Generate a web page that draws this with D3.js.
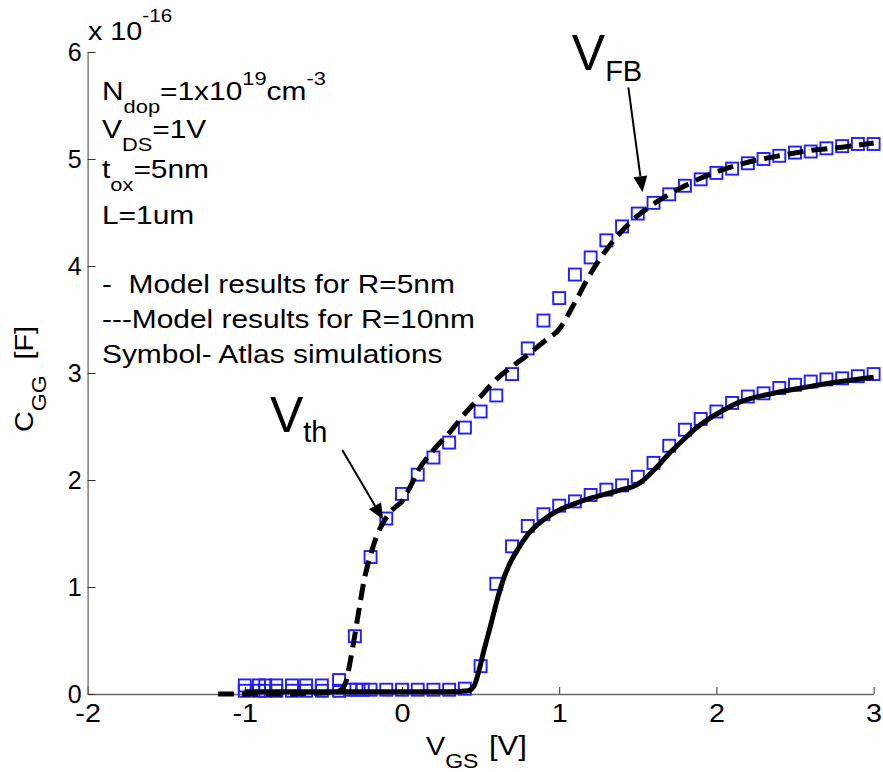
<!DOCTYPE html>
<html><head><meta charset="utf-8">
<script src="https://cdn.jsdelivr.net/npm/d3@7"></script>
<style>
html,body{margin:0;padding:0;background:#fff;}
svg text{font-family:"Liberation Sans", Arial, Helvetica, sans-serif; fill:#000; white-space:pre;}
</style></head><body>
<svg id="chart" width="883" height="772"></svg>
<script>
// Gate capacitance C_GG versus V_GS; capacitance values are in units of 1e-16 F.
const xTicks = [-2, -1, 0, 1, 2, 3];
const yTicks = [0, 1, 2, 3, 4, 5, 6];

// Model results, R = 10 nm (dashed line)
const modelR10V = [-1.17, -0.8, -0.5, -0.4, -0.36, -0.33, -0.3, -0.27, -0.24, -0.2, -0.16, -0.12, -0.08, -0.04, 0.0, 0.05, 0.1, 0.2, 0.3, 0.4, 0.5, 0.6, 0.7, 0.8, 0.9, 1.0, 1.1, 1.2, 1.3, 1.4, 1.5, 1.6, 1.7, 1.8, 1.9, 2.0, 2.2, 2.4, 2.6, 2.8, 3.0];
const modelR10C = [0.0, 0.0, 0.01, 0.03, 0.1, 0.3, 0.55, 0.82, 1.07, 1.3, 1.48, 1.6, 1.69, 1.75, 1.8, 1.93, 2.08, 2.28, 2.44, 2.62, 2.78, 2.94, 3.06, 3.17, 3.29, 3.41, 3.66, 3.93, 4.15, 4.33, 4.47, 4.58, 4.67, 4.75, 4.82, 4.88, 4.97, 5.03, 5.08, 5.11, 5.15];

// Model results, R = 5 nm (solid line)
const modelR5V = [-1.0, 0.3, 0.42, 0.46, 0.49, 0.52, 0.56, 0.6, 0.64, 0.68, 0.74, 0.8, 0.86, 0.92, 1.0, 1.1, 1.2, 1.3, 1.4, 1.47, 1.52, 1.56, 1.6, 1.64, 1.7, 1.75, 1.8, 1.85, 1.94, 2.04, 2.15, 2.36, 2.58, 2.79, 3.0];
const modelR5C = [0.02, 0.02, 0.03, 0.08, 0.22, 0.4, 0.62, 0.85, 1.05, 1.2, 1.36, 1.49, 1.58, 1.65, 1.72, 1.78, 1.83, 1.87, 1.91, 1.94, 1.98, 2.03, 2.09, 2.15, 2.25, 2.32, 2.39, 2.46, 2.56, 2.65, 2.73, 2.81, 2.87, 2.92, 2.96];

// Atlas simulations, R = 10 nm (symbols)
const atlasR10V = [-1.0, -0.91, -0.87, -0.8, -0.7, -0.61, -0.51, -0.4, -0.3, -0.2, -0.1, 0.0, 0.1, 0.2, 0.3, 0.4, 0.5, 0.6, 0.7, 0.8, 0.9, 1.0, 1.1, 1.2, 1.3, 1.4, 1.5, 1.6, 1.7, 1.8, 1.9, 2.0, 2.1, 2.2, 2.3, 2.4, 2.5, 2.6, 2.7, 2.8, 2.9, 3.0];
const atlasR10C = [0.08, 0.08, 0.08, 0.08, 0.08, 0.08, 0.08, 0.13, 0.54, 1.28, 1.64, 1.87, 2.05, 2.21, 2.35, 2.49, 2.64, 2.79, 2.99, 3.23, 3.49, 3.70, 3.92, 4.08, 4.24, 4.37, 4.49, 4.59, 4.67, 4.75, 4.81, 4.87, 4.91, 4.96, 5.00, 5.03, 5.06, 5.07, 5.10, 5.12, 5.14, 5.14];

// Atlas simulations, R = 5 nm (symbols)
const atlasR5V = [-1.0, -0.91, -0.87, -0.8, -0.7, -0.61, -0.51, -0.4, -0.33, -0.29, -0.25, -0.2, -0.1, 0.0, 0.1, 0.2, 0.3, 0.4, 0.5, 0.6, 0.7, 0.8, 0.9, 1.0, 1.1, 1.2, 1.3, 1.4, 1.5, 1.6, 1.7, 1.8, 1.9, 2.0, 2.1, 2.2, 2.3, 2.4, 2.5, 2.6, 2.7, 2.8, 2.9, 3.0];
const atlasR5C = [0.03, 0.03, 0.03, 0.03, 0.03, 0.03, 0.03, 0.03, 0.04, 0.04, 0.04, 0.04, 0.04, 0.04, 0.04, 0.04, 0.04, 0.05, 0.26, 1.03, 1.38, 1.57, 1.68, 1.76, 1.80, 1.86, 1.91, 1.95, 2.03, 2.16, 2.32, 2.47, 2.57, 2.64, 2.72, 2.78, 2.81, 2.86, 2.89, 2.92, 2.94, 2.95, 2.97, 2.99];

// Parameter box and legend text
const paramLines = [
  [{t: "N"}, {t: "dop", sub: true}, {t: "=1x10"}, {t: "19", sup: true}, {t: "cm"}, {t: "-3", sup: true}],
  [{t: "V"}, {t: "DS", sub: true}, {t: "=1V"}],
  [{t: "t"}, {t: "ox", sub: true}, {t: "=5nm"}],
  [{t: "L=1um"}]
];
const legendLines = ["-  Model results for R=5nm", "---Model results for R=10nm", "Symbol- Atlas simulations"];

const SX = 1.15; // horizontal stretch of the small text
const svg = d3.select("#chart");
const x = d3.scaleLinear().domain([-2, 3]).range([87.6, 873.6]);
const y = d3.scaleLinear().domain([0, 6]).range([694, 52]);

// Text with sub/superscripts built from tspans
function rich(parent, px, py, parts, size, opts = {}) {
  const sx = opts.sx || 1;
  const t = parent.append("text")
    .attr("transform", `translate(${px},${py}) ${opts.rotate ? "rotate(" + opts.rotate + ")" : ""} scale(${sx},1)`)
    .attr("font-size", size);
  let off = 0;
  parts.forEach(p => {
    const target = p.sub ? (opts.subDrop ?? size * 0.5) : p.sup ? -(opts.supRise ?? size * 0.58) : 0;
    t.append("tspan")
      .attr("dy", target - off)
      .attr("font-size", (p.sub || p.sup) ? (opts.subSize || size * 0.73) : size)
      .text(p.t);
    off = target;
  });
  return t;
}

// Axes (plain hyphen for negative tick labels)
const fmt = d => String(d);
const xAxis = d3.axisBottom(x).tickValues(xTicks).tickSizeInner(-7).tickSizeOuter(0).tickPadding(10).tickFormat(fmt);
const yAxis = d3.axisLeft(y).tickValues(yTicks).tickSizeInner(-8).tickSizeOuter(0).tickPadding(6).tickFormat(fmt);

const gx = svg.append("g").attr("transform", `translate(0,${y(0)})`).call(xAxis);
const gy = svg.append("g").attr("transform", `translate(${x(-2)},0)`).call(yAxis);
[gx, gy].forEach(g => {
  g.select(".domain").attr("stroke", "#6a6a6a").attr("stroke-width", 1.3);
  g.selectAll(".tick line").attr("stroke", "#333").attr("stroke-width", 1);
  g.selectAll(".tick text").attr("font-size", 25).attr("font-family", null).attr("fill", "#000");
});
gx.selectAll(".tick text").attr("transform", `scale(${SX},1)`);

// Exponent label
rich(svg, 88, 40, [{t: "x 10"}, {t: "-16", sup: true}], 25, {sx: SX, supRise: 18, subSize: 18});

// Atlas symbols
const sq = 12;
function symbols(vs, cs) {
  svg.append("g").selectAll("rect").data(d3.zip(vs, cs)).join("rect")
    .attr("x", d => x(d[0]) - sq / 2).attr("y", d => y(d[1]) - sq / 2)
    .attr("width", sq).attr("height", sq)
    .attr("fill", "none").attr("stroke", "#1f1fff").attr("stroke-width", 1.9);
}
symbols(atlasR10V, atlasR10C);
symbols(atlasR5V, atlasR5C);

// Model curves
const line = d3.line().x(d => x(d[0])).y(d => y(d[1])).curve(d3.curveMonotoneX);
svg.append("path").datum(d3.zip(modelR5V, modelR5C)).attr("d", line)
  .attr("fill", "none").attr("stroke", "#000").attr("stroke-width", 5);
svg.append("path").datum(d3.zip(modelR10V, modelR10C)).attr("d", line)
  .attr("fill", "none").attr("stroke", "#000").attr("stroke-width", 5).attr("stroke-dasharray", "16,8");

// Parameter text and legend
const paramBase = [100, 138, 178, 224];
paramLines.forEach((parts, i) => rich(svg, 102, paramBase[i], parts, 26, {sx: SX, subDrop: 13, supRise: 15, subSize: 19}));
legendLines.forEach((s, i) => rich(svg, 102, 293 + 35 * i, [{t: s}], 26, {sx: SX}));

// Annotations with arrows
function arrow(v0, c0, v1, c1) {
  const x0 = x(v0), y0 = y(c0), x1 = x(v1), y1 = y(c1);
  const a = Math.atan2(y1 - y0, x1 - x0), L = 16, Wd = 7;
  const bx = x1 - L * Math.cos(a), by = y1 - L * Math.sin(a);
  svg.append("line").attr("x1", x0).attr("y1", y0).attr("x2", bx).attr("y2", by)
    .attr("stroke", "#000").attr("stroke-width", 2);
  svg.append("path").attr("d", `M${x1},${y1}L${bx + Wd * Math.sin(a)},${by - Wd * Math.cos(a)}L${bx - Wd * Math.sin(a)},${by + Wd * Math.cos(a)}Z`)
    .attr("fill", "#000");
}
arrow(-0.38, 2.28, -0.12, 1.63);
arrow(1.44, 5.67, 1.53, 4.69);
rich(svg, x(-0.84), y(2.45), [{t: "V"}, {t: "th", sub: true}], 50, {subDrop: 10, subSize: 29});
rich(svg, x(1.08), y(5.83), [{t: "V"}, {t: "FB", sub: true}], 50, {subDrop: 11, subSize: 29});

// Axis titles
rich(svg, 426, 755, [{t: "V"}, {t: "GS", sub: true}], 25, {sx: SX, subDrop: 13, subSize: 20});
rich(svg, 489, 755, [{t: "[V]"}], 27, {sx: SX});
rich(svg, 33, 432, [{t: "C"}, {t: "GG", sub: true}, {t: "  [F]"}], 25, {sx: SX, rotate: -90, subDrop: 13, subSize: 20});
</script></body></html>
